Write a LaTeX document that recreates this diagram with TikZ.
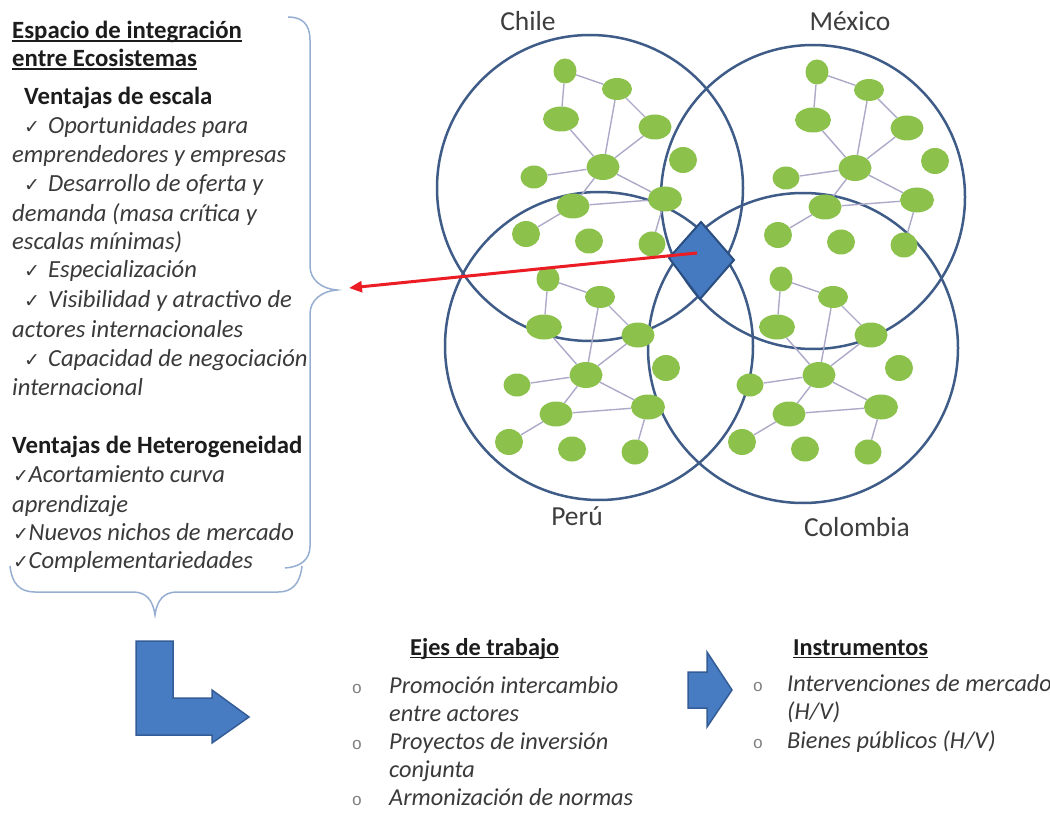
\documentclass[tikz,border=0pt]{standalone}
\usepackage{fontspec}
\setmainfont{Carlito}
\newfontfamily\symf{DejaVu Sans}
\newfontfamily\monof{Liberation Mono}
\usetikzlibrary{shapes.geometric,arrows.meta}
\definecolor{circ}{RGB}{62,92,135}
\definecolor{greenn}{RGB}{140,194,76}
\definecolor{edgec}{RGB}{172,170,200}
\definecolor{diaf}{RGB}{70,122,192}
\definecolor{diad}{RGB}{42,78,128}
\definecolor{redc}{RGB}{236,28,36}
\definecolor{bracec}{RGB}{150,174,210}
\definecolor{arrf}{RGB}{72,124,194}
\definecolor{arrd}{RGB}{52,92,150}
\definecolor{txtb}{RGB}{28,28,28}
\definecolor{txti}{RGB}{58,58,58}
\newsavebox\ulbox
\newcommand\myul[1]{\sbox\ulbox{#1}\rlap{\rule[-3pt]{\wd\ulbox}{1.5pt}}\usebox\ulbox}
\newcommand\ck{{\symf\upshape\fontsize{19}{19}\selectfont ✓}}
\newcommand\cka{\makebox[24pt][l]{\ck}}
\newcommand\ckb{\makebox[15.5pt][l]{\ck}}
\newcommand\gnode[5]{\node[gn,minimum width=#4pt,minimum height=#5pt] (#1) at (#2,#3) {};}
\newcommand\netw[3]{%
 \begin{scope}[shift={(#2,#3)}]
  \gnode{#1A}{565}{71}{23}{25}
  \gnode{#1B}{617}{89}{30}{22}
  \gnode{#1C}{561}{119}{36}{25}
  \gnode{#1D}{655}{127}{33}{25}
  \gnode{#1E}{683}{160}{28}{26}
  \gnode{#1F}{603}{167}{33}{26}
  \gnode{#1G}{534}{177}{27}{23}
  \gnode{#1H}{573}{206}{33}{25}
  \gnode{#1I}{665}{199}{34}{25}
  \gnode{#1J}{526}{234}{28}{26}
  \gnode{#1K}{589}{241}{28}{25}
  \gnode{#1L}{652}{244}{27}{25}
  \draw[ge] (#1A)--(#1B) (#1A)--(#1C) (#1B)--(#1D) (#1B)--(#1F)
   (#1C)--(#1F) (#1D)--(#1F) (#1G)--(#1F) (#1F)--(#1H) (#1F)--(#1I)
   (#1H)--(#1I) (#1H)--(#1J) (#1I)--(#1L);
 \end{scope}}
\begin{document}
\begin{tikzpicture}[x=1pt,y=-1pt,
  bigc/.style={circle,draw=circ,line width=2.5pt,inner sep=0pt},
  gn/.style={ellipse,fill=greenn,inner sep=0pt,draw=none},
  ge/.style={draw=edgec,line width=1.4pt},
  lab/.style={anchor=base,inner sep=0pt,text=txtb!85,font=\fontsize{27.5}{30}\selectfont},
  lt/.style={anchor=base west,inner sep=0pt,text=txti,font=\fontsize{24.6}{28}\selectfont\itshape},
  lh/.style={anchor=base west,inner sep=0pt,text=txtb,font=\fontsize{24.8}{28}\selectfont\bfseries},
  bt/.style={anchor=base west,inner sep=0pt,text=txti,font=\fontsize{24.3}{28}\selectfont\itshape},
  bh/.style={anchor=base west,inner sep=0pt,text=txtb,font=\fontsize{24.3}{28}\selectfont\bfseries},
  bul/.style={anchor=base,inner sep=0pt,text=txti!65,font=\monof\fontsize{17}{17}\selectfont},
  brace/.style={draw=bracec,line width=1.5pt},
  blarr/.style={fill=arrf,draw=arrd,line width=1.5pt,line join=miter},
]
\fill[white] (0,0) rectangle (1050,813);
\useasboundingbox (0,0) rectangle (1050,813);

% big circles
\node[bigc,minimum size=306pt] (chile) at (590,188) {};
\node[bigc,minimum size=304pt] (mexico) at (813,197) {};
\node[bigc,minimum size=308pt] (peru) at (599,346) {};
\node[bigc,minimum size=310pt] (colombia) at (803,348) {};

% networks
\netw{ch}{0}{0}
\netw{mx}{252}{1}
\netw{pe}{-17}{208}
\netw{co}{216}{208}

% diamond
\draw[fill=diaf,draw=diad,line width=2pt,line join=miter] (701,222) -- (734,260) -- (700,299) -- (669,258) -- cycle;
\coordinate (dstart) at (697,253);
\coordinate (bend) at (349,288);
\draw[draw=redc,line width=3pt,-{Triangle[length=13pt,width=11pt]}] (dstart) -- (bend);

% country labels
\node[lab] (lchile) at (528,31) {Chile};
\node[lab] (lmex) at (850,31) {México};
\node[lab] (lperu) at (577,525) {Perú};
\node[lab] (lcol) at (857,536) {Colombia};

% braces
\draw[brace] (288,17) .. controls (302,17) and (310,24) .. (310,40) -- (310,266)
  .. controls (310,280) and (322,289) .. (337,290)
  .. controls (322,291) and (310,300) .. (310,314) -- (310,546)
  .. controls (310,560) and (300,567) .. (285,568);
\draw[brace] (10,566) .. controls (12,584) and (20,592) .. (35,592) -- (133,592)
  .. controls (146,592) and (153,600) .. (155,615)
  .. controls (157,600) and (164,592) .. (177,592) -- (278,592)
  .. controls (292,592) and (300,584) .. (302,566);

% left text
\node[lh] (t1) at (12,39) {\myul{Espacio de integración}};
\node[lh] (t2) at (12,67) {\myul{entre Ecosistemas}};
\node[lh] (t3) at (24,105) {Ventajas de escala};
\node[lt] (t4) at (24,134) {\cka Oportunidades para};
\node[lt] (t5) at (12,163) {emprendedores y empresas};
\node[lt] (t6) at (24,192) {\cka Desarrollo de oferta y};
\node[lt] (t7) at (12,222) {demanda (masa crítica y};
\node[lt] (t8) at (12,250) {escalas mínimas)};
\node[lt] (t9) at (24,278) {\cka Especialización};
\node[lt] (t10) at (24,308) {\cka Visibilidad y atractivo de};
\node[lt] (t11) at (12,337) {actores internacionales};
\node[lt] (t12) at (24,366) {\cka Capacidad de negociación};
\node[lt] (t13) at (12,395) {internacional};
\node[lh] (t14) at (12,453) {Ventajas de Heterogeneidad};
\node[lt] (t15) at (13,482) {\ckb Acortamiento curva};
\node[lt] (t16) at (12,512) {aprendizaje};
\node[lt] (t17) at (13,540) {\ckb Nuevos nichos de mercado};
\node[lt] (t18) at (13,568) {\ckb Complementariedades};

% L arrow
\draw[blarr] (136,641) -- (173,641) -- (173,698) -- (212,698) -- (212,690) -- (249,717) -- (212,743) -- (212,735) -- (136,735) -- cycle;

% Ejes de trabajo
\node[bh] (ejes) at (410,655) {\myul{Ejes de trabajo}};
\node[bul] (b1) at (357,693) {o};
\node[bt] (e1) at (389,693) {Promoción intercambio};
\node[bt] (e2) at (389,721) {entre actores};
\node[bul] (b2) at (357,749) {o};
\node[bt] (e3) at (389,749) {Proyectos de inversión};
\node[bt] (e4) at (389,777) {conjunta};
\node[bul] (b3) at (357,805) {o};
\node[bt] (e5) at (389,805) {Armonización de normas};

% small arrow
\draw[blarr] (688,672) -- (707,672) -- (707,652) -- (732,690) -- (707,727) -- (707,708) -- (688,708) -- cycle;

% Instrumentos
\node[bh] (inst) at (793,655) {\myul{Instrumentos}};
\node[bul] (b4) at (758,691) {o};
\node[bt] (i1) at (787,691) {Intervenciones de mercado};
\node[bt] (i2) at (787,719) {(H/V)};
\node[bul] (b5) at (758,748) {o};
\node[bt] (i3) at (787,748) {Bienes públicos (H/V)};
\end{tikzpicture}
\end{document}
